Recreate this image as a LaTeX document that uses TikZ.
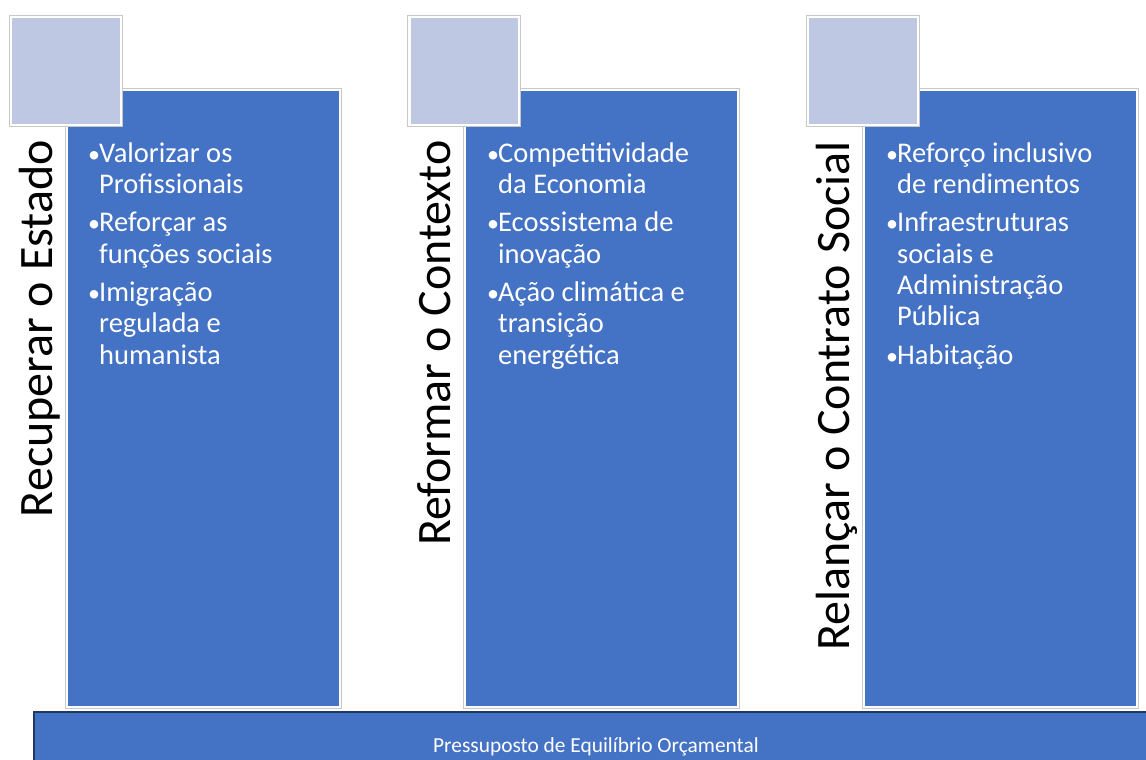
\documentclass[tikz,border=0pt]{standalone}
\usepackage{fontspec}
\setmainfont{Carlito}
\definecolor{mainblue}{HTML}{4472C4}
\definecolor{sqfill}{HTML}{BEC8E3}
\definecolor{edgegray}{HTML}{C8C8C8}
\definecolor{navy}{HTML}{203864}
\tikzset{
  x=1pt, y=-1pt,
  panel/.style={draw=edgegray, line width=0.8pt, fill=white},
  panelfill/.style={fill=mainblue},
  sqfillst/.style={fill=sqfill},
  title/.style={rotate=90, anchor=base east, inner sep=0pt, text=black, font=\fontsize{48}{56}\selectfont},
  itemline/.style={anchor=base west, inner sep=0pt, text=white, font=\fontsize{28.5}{31}\selectfont},
  bul/.style={anchor=base west, inner sep=0pt, text=white, font=\fontsize{24}{31}\selectfont},
  footbar/.style={draw=navy, line width=2pt, fill=mainblue},
  foottext/.style={anchor=base, inner sep=0pt, text=white, font=\fontsize{21.4}{24}\selectfont}
}
\begin{document}
\begin{tikzpicture}
\useasboundingbox (0,0) rectangle (1146,760);
\clip (0,0) rectangle (1146,760);
% columns
\foreach \dx/\n in {0/a,398.5/b,797/c}{
  \begin{scope}[xshift=\dx]
    \filldraw[panel] (65,88) rectangle (341,708);
    \fill[panelfill] (67.5,90.5) rectangle (338.5,705.5);
    \filldraw[panel] (9.3,15.3) rectangle (122.3,126.7);
    \fill[sqfillst] (12,18) rectangle (119.7,124.3);
  \end{scope}
}
% titles
\node[title] (t1) at (52,140) {Recuperar o Estado};
\node[title] (t2) at (450.5,140) {Reformar o Contexto};
\node[title] (t3) at (849,141) {Relançar o Contrato Social};
% column 1 items
\node[bul] (b11) at (88,162) {•};
\node[itemline] (l11) at (99,162) {Valorizar os};
\node[itemline] (l12) at (99,193.3) {Profissionais};
\node[bul] (b12) at (88,231.8) {•};
\node[itemline] (l13) at (99,231.8) {Reforçar as};
\node[itemline] (l14) at (99,263.1) {funções sociais};
\node[bul] (b13) at (88,301.6) {•};
\node[itemline] (l15) at (99,301.6) {Imigração};
\node[itemline] (l16) at (99,332.9) {regulada e};
\node[itemline] (l17) at (99,364.2) {humanista};
% column 2 items
\node[bul] (b21) at (487,162) {•};
\node[itemline] (l21) at (498,162) {Competitividade};
\node[itemline] (l22) at (498,193.3) {da Economia};
\node[bul] (b22) at (487,231.8) {•};
\node[itemline] (l23) at (498,231.8) {Ecossistema de};
\node[itemline] (l24) at (498,263.1) {inovação};
\node[bul] (b23) at (487,301.6) {•};
\node[itemline] (l25) at (498,301.6) {Ação climática e};
\node[itemline] (l26) at (498,332.9) {transição};
\node[itemline] (l27) at (498,364.2) {energética};
% column 3 items
\node[bul] (b31) at (886,162) {•};
\node[itemline] (l31) at (897,162) {Reforço inclusivo};
\node[itemline] (l32) at (897,193.3) {de rendimentos};
\node[bul] (b32) at (886,231.8) {•};
\node[itemline] (l33) at (897,231.8) {Infraestruturas};
\node[itemline] (l34) at (897,263.1) {sociais e};
\node[itemline] (l35) at (897,294.4) {Administração};
\node[itemline] (l36) at (897,325.7) {Pública};
\node[bul] (b33) at (886,364.2) {•};
\node[itemline] (l37) at (897,364.2) {Habitação};
% footer
\filldraw[footbar] (34,712) rectangle (1160,775);
\node[foottext] (ft) at (596,752) {Pressuposto de Equilíbrio Orçamental};
\end{tikzpicture}
\end{document}
